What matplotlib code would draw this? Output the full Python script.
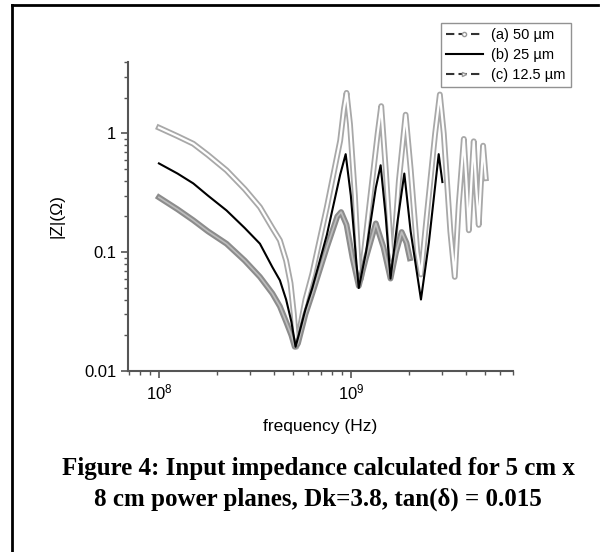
import matplotlib
matplotlib.use("Agg")
import matplotlib.pyplot as plt
from matplotlib.lines import Line2D
from matplotlib.ticker import LogLocator, FixedFormatter, FixedLocator

plt.rcParams.update({
    "font.family": ["Liberation Sans", "DejaVu Sans"],
    "mathtext.fontset": "custom",
    "mathtext.rm": "Liberation Sans",
    "mathtext.it": "Liberation Sans:italic",
    "mathtext.bf": "Liberation Sans:bold",
})

# (a) 50 um
freq_a = [1.0e8, 1.25e8, 1.51e8, 1.8e8, 2.25e8, 2.8e8, 3.36e8, 3.9e8, 4.27e8,
          4.6e8, 4.85e8, 5.05e8, 5.2e8, 5.4e8, 5.8e8, 6.3e8, 7.5e8, 8.8e8,
          9.2e8, 9.5e8, 9.9e8, 1.05e9, 1.1e9, 1.13e9, 1.25e9, 1.38e9, 1.44e9,
          1.52e9, 1.62e9, 1.66e9, 1.78e9, 1.93e9, 2.05e9, 2.22e9, 2.32e9,
          2.5e9, 2.75e9, 2.91e9, 3.05e9, 3.3e9, 3.48e9, 3.65e9, 3.88e9,
          4.0e9, 4.12e9, 4.25e9, 4.37e9, 4.5e9, 4.64e9, 4.77e9, 4.89e9, 5.05e9]
z_a = [1.12, 0.95, 0.82, 0.66, 0.49, 0.34, 0.24, 0.16, 0.126,
       0.085, 0.055, 0.03, 0.016, 0.022, 0.04, 0.066, 0.24, 0.87,
       1.6, 2.2, 1.2, 0.3, 0.07, 0.06, 0.25, 1.0, 1.7,
       0.5, 0.1, 0.085, 0.4, 1.44, 0.5, 0.1, 0.065,
       0.22, 1.0, 2.13, 1.0, 0.15, 0.062, 0.25, 0.9,
       0.4, 0.153, 0.4, 0.86, 0.35, 0.17, 0.4, 0.79, 0.42]

# (b) 25 um
freq_b = [1.0e8, 1.25e8, 1.51e8, 1.8e8, 2.25e8, 2.8e8, 3.36e8, 3.9e8, 4.27e8,
          4.6e8, 4.9e8, 5.15e8, 5.35e8, 5.8e8, 6.3e8, 7.5e8, 8.8e8, 9.4e8,
          1.0e9, 1.07e9, 1.1e9, 1.2e9, 1.35e9, 1.43e9, 1.52e9, 1.61e9,
          1.75e9, 1.9e9, 2.05e9, 2.32e9, 2.55e9, 2.87e9, 3.0e9]
z_b = [0.56, 0.46, 0.38, 0.30, 0.225, 0.16, 0.118, 0.075, 0.058,
       0.04, 0.026, 0.016, 0.02, 0.033, 0.05, 0.14, 0.45, 0.67,
       0.3, 0.08, 0.05, 0.1, 0.35, 0.54, 0.2, 0.06,
       0.18, 0.46, 0.15, 0.04, 0.12, 0.67, 0.39]

# (c) 12.5 um
freq_c = [1.0e8, 1.25e8, 1.51e8, 1.8e8, 2.25e8, 2.8e8, 3.36e8, 3.9e8, 4.27e8,
          4.6e8, 4.9e8, 5.1e8, 5.3e8, 5.8e8, 6.3e8, 7.5e8, 8.5e8, 8.9e8,
          9.5e8, 1.02e9, 1.1e9, 1.2e9, 1.35e9, 1.48e9, 1.61e9, 1.72e9,
          1.84e9, 1.95e9, 2.03e9]
z_c = [0.29, 0.23, 0.186, 0.15, 0.118, 0.085, 0.062, 0.045, 0.035,
       0.026, 0.02, 0.016, 0.017, 0.03, 0.045, 0.11, 0.2, 0.218,
       0.17, 0.09, 0.052, 0.09, 0.175, 0.11, 0.06, 0.1,
       0.148, 0.12, 0.089]

labels = ["(a) 50 \u00b5m", "(b) 25 \u00b5m", "(c) 12.5 \u00b5m"]
yticks = [0.01, 0.1, 1]
ytick_labels = ["0.01", "0.1", "1"]

fig = plt.figure(figsize=(6, 5.52), dpi=100)
ax = fig.add_axes([128 / 600, 1 - 371 / 552, 385 / 600, 309 / 552])

# dense open-marker series look like a hollow band
ax.plot(freq_a, z_a, color="#a8a8a8", lw=4.2, solid_joinstyle="round")
ax.plot(freq_a, z_a, color="white", lw=1.6, solid_joinstyle="round")
ax.plot(freq_c, z_c, color="#8c8c8c", lw=4.2, solid_joinstyle="round")
ax.plot(freq_c, z_c, color="#bdbdbd", lw=1.2, solid_joinstyle="round")
ax.plot(freq_b, z_b, color="black", lw=1.5)

ax.set_xscale("log")
ax.set_yscale("log")
ax.set_xlim(6.9e7, 7e9)
ax.set_ylim(0.01, 4)

ax.yaxis.set_major_locator(FixedLocator(yticks))
ax.yaxis.set_major_formatter(FixedFormatter(ytick_labels))
ax.yaxis.set_minor_locator(LogLocator(base=10, subs=range(2, 10)))
ax.xaxis.set_minor_locator(LogLocator(base=10, subs=range(2, 10)))

for s in ["top", "right"]:
    ax.spines[s].set_visible(False)
for s in ["left", "bottom"]:
    ax.spines[s].set_color("#555555")
    ax.spines[s].set_linewidth(1.5)
ax.tick_params(which="major", direction="out", length=5, width=1.2,
               color="#555555", labelsize=12)
ax.tick_params(which="minor", direction="out", length=3, width=1,
               color="#555555")

ax.set_ylabel("|Z|(\u03a9)", fontsize=12.5, labelpad=14)
ax.set_xlabel("frequency (Hz)", fontsize=12.5, labelpad=12)

handles = [
    Line2D([], [], color="#333333", lw=1.5, ls=(0, (4, 2)), marker="o",
           ms=3, mfc="white", mec="#999999"),
    Line2D([], [], color="black", lw=1.5),
    Line2D([], [], color="#333333", lw=1.5, ls=(0, (4, 2)), marker=">",
           ms=3, mfc="white", mec="#999999"),
]
leg = fig.legend(handles, labels, loc="upper left",
                 bbox_to_anchor=(441 / 600, 1 - 23 / 552), borderaxespad=0,
                 fontsize=10.5, frameon=True, fancybox=False,
                 handlelength=2.5, borderpad=0.35, labelspacing=0.4,
                 handletextpad=0.6)
leg.get_frame().set_edgecolor("#777777")
leg.get_frame().set_linewidth(1)

fig.text(318 / 600, 1 - 468 / 552,
         "Figure 4: Input impedance calculated for 5 cm x",
         ha="center", va="center", fontsize=18, fontweight="bold",
         family="Liberation Serif")
fig.text(318 / 600, 1 - 499 / 552,
         "8 cm power planes, Dk=3.8, tan(\u03b4) = 0.015",
         ha="center", va="center", fontsize=18, fontweight="bold",
         family="Liberation Serif")

# page frame (left and top edges)
fig.add_artist(Line2D([12 / 600, 12 / 600], [0, 1 - 5 / 552],
                      transform=fig.transFigure, color="black", lw=2))
fig.add_artist(Line2D([12 / 600, 598 / 600], [1 - 5 / 552, 1 - 5 / 552],
                      transform=fig.transFigure, color="black", lw=2))

fig.savefig("out.png", dpi=100)
